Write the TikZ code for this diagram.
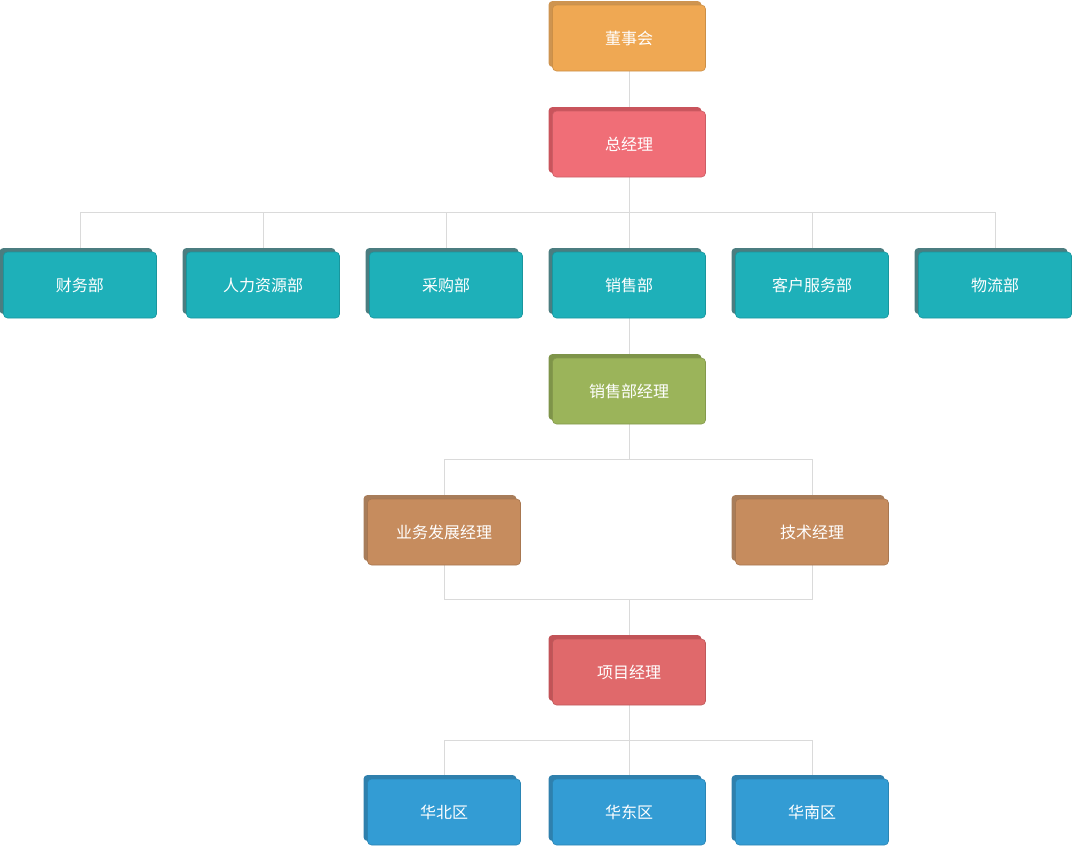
\documentclass[tikz,border=0pt]{standalone}
\usepackage{fontspec}
\newfontfamily\cjk{Noto Sans CJK SC}
\usetikzlibrary{shadows,backgrounds}

\definecolor{orgFace}{HTML}{EFA853}
\definecolor{orgBack}{HTML}{CE9450}
\definecolor{redFace}{HTML}{F06E77}
\definecolor{redBack}{HTML}{C9545C}
\definecolor{tealFace}{HTML}{1EB0B9}
\definecolor{tealBack}{HTML}{4B7D80}
\definecolor{greenFace}{HTML}{9BB45A}
\definecolor{greenBack}{HTML}{7E9449}
\definecolor{brownFace}{HTML}{C68C5E}
\definecolor{brownBack}{HTML}{A87D5A}
\definecolor{pmFace}{HTML}{E0696B}
\definecolor{pmBack}{HTML}{C25357}
\definecolor{blueFace}{HTML}{339CD4}
\definecolor{blueBack}{HTML}{2F80AD}
\definecolor{linkGray}{HTML}{DADADA}

\tikzset{
  card/.style 2 args={rectangle, rounded corners=4pt, minimum width=153pt,
    minimum height=66pt, inner sep=0pt, fill=#1, draw=#1!85!black,
    line width=0.6pt, text=white, font=\cjk\fontsize{16}{19}\selectfont,
    copy shadow={shadow xshift=-4pt, shadow yshift=4pt, fill=#2, draw=none}},
  link/.style={draw=linkGray, line width=1pt}
}

\begin{document}
\begin{tikzpicture}[x=1pt, y=-1pt]
		\useasboundingbox (0,0) rectangle (1072,849);

		%% board and general manager
		\node[card={orgFace}{orgBack}] at (629,38)(dsh){董事会};
		\node[card={redFace}{redBack}] at (629,144)(zjl){总经理};

		%% departments
		\node[card={tealFace}{tealBack}] at (80,285)(cw){财务部};
		\node[card={tealFace}{tealBack}] at (263,285)(rl){人力资源部};
		\node[card={tealFace}{tealBack}] at (446,285)(cg){采购部};
		\node[card={tealFace}{tealBack}] at (629,285)(xs){销售部};
		\node[card={tealFace}{tealBack}] at (812,285)(kf){客户服务部};
		\node[card={tealFace}{tealBack}] at (995,285)(wl){物流部};

		%% sales branch
		\node[card={greenFace}{greenBack}] at (629,391)(xsjl){销售部经理};

		\node[card={brownFace}{brownBack}] at (444,532)(ywfz){业务发展经理};
		\node[card={brownFace}{brownBack}] at (812,532)(jsjl){技术经理};

		\node[card={pmFace}{pmBack}] at (629,672)(xmjl){项目经理};

		%% regions
		\node[card={blueFace}{blueBack}] at (444,812)(hb){华北区};
		\node[card={blueFace}{blueBack}] at (629,812)(hd){华东区};
		\node[card={blueFace}{blueBack}] at (812,812)(hn){华南区};

		\coordinate (b1) at (629,212);
		\coordinate (b2) at (629,459);
		\coordinate (b3) at (629,599);
		\coordinate (b4) at (629,740);

		\begin{scope}[on background layer]
		\path[link] (dsh)--(zjl) (zjl)--(b1);
		\path[link] (b1)-|(cw) (b1)-|(rl) (b1)-|(cg)
			(b1)-|(kf) (b1)-|(wl) (b1)--(xs);
		\path[link] (xs)--(xsjl) (xsjl)--(b2) (b2)-|(ywfz) (b2)-|(jsjl);
		\path[link] (ywfz)|-(b3) (jsjl)|-(b3) (b3)--(xmjl);
		\path[link] (xmjl)--(b4) (b4)-|(hb) (b4)--(hd) (b4)-|(hn);
		\end{scope}
\end{tikzpicture}
\end{document}
